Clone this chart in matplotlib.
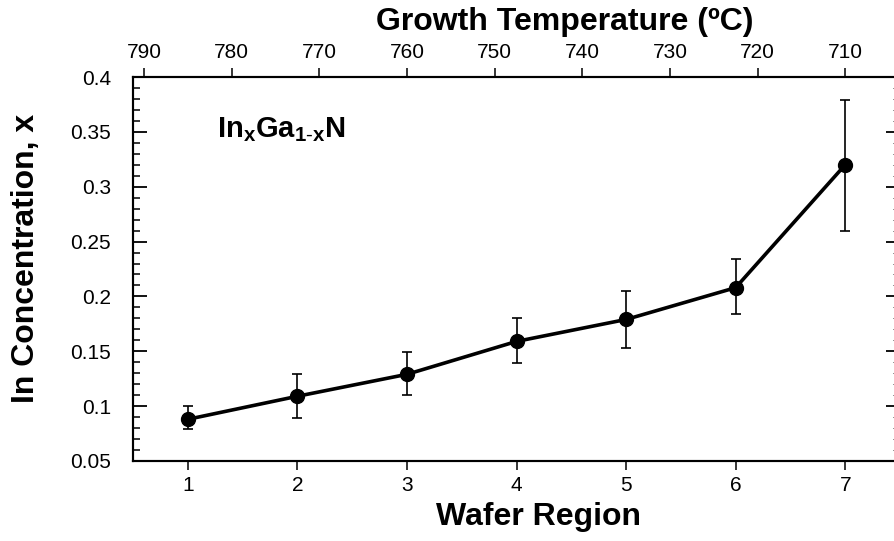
"""InGaN indium concentration vs wafer region / growth temperature."""
import numpy as np
import matplotlib; matplotlib.use("Agg")
import matplotlib.pyplot as plt
from matplotlib.ticker import MultipleLocator, FixedLocator

plt.rcParams['font.family'] = ['Liberation Sans', 'DejaVu Sans']
plt.rcParams['mathtext.fontset'] = 'custom'
plt.rcParams['mathtext.rm'] = 'Liberation Sans'
plt.rcParams['mathtext.bf'] = 'Liberation Sans:bold'

# data
region = [1, 2, 3, 4, 5, 6, 7]
conc = [0.088, 0.109, 0.129, 0.159, 0.179, 0.208, 0.320]
err_lo = [0.009, 0.020, 0.019, 0.020, 0.026, 0.024, 0.060]
err_hi = [0.012, 0.020, 0.020, 0.021, 0.026, 0.026, 0.059]
temp_ticks = [790, 780, 770, 760, 750, 740, 730, 720, 710]
# growth temperature at region 1 and region 7 (linear across wafer)
temp_r1, temp_r7 = 785, 710

fig = plt.figure(figsize=(8.94, 5.41), dpi=100)
W, H = 894, 541
ax = fig.add_axes([133 / W, 1 - 461 / H, (900 - 133) / W, (461 - 77) / H])

ax.errorbar(region, conc, yerr=[err_lo, err_hi], color='black', lw=2.6,
            marker='o', ms=10, ecolor='black', elinewidth=1.2, capsize=3.8,
            capthick=1.2)

ax.set_xlim(0.5, 7.5)
ax.set_ylim(0.05, 0.4)
ax.xaxis.set_major_locator(FixedLocator(region))
ax.yaxis.set_major_locator(MultipleLocator(0.05))
ax.yaxis.set_minor_locator(MultipleLocator(0.01))
ax.yaxis.set_major_formatter(plt.FuncFormatter(lambda v, p: f'{v:.2f}'.rstrip('0').rstrip('.') if v else '0'))

for s in ax.spines.values():
    s.set_linewidth(1.5)
ax.tick_params(axis='x', which='major', direction='out', length=6.5, width=1.1,
               labelsize=15, pad=4, top=False)
ax.tick_params(axis='y', which='major', direction='in', length=10, width=1.3,
               labelsize=15, pad=16, left=True, right=True)
ax.tick_params(axis='y', which='minor', direction='in', length=5, width=1.1,
               left=True, right=True)
for t in ax.yaxis.get_minor_ticks():
    t.tick2line.set_color('#999999')
    t.tick2line.set_markeredgewidth(0.6)

# top axis: growth temperature
slope = (temp_r7 - temp_r1) / (region[-1] - region[0])
ax2 = ax.twiny()
ax2.set_xlim(temp_r1 + slope * (0.5 - 1), temp_r1 + slope * (7.5 - 1))
ax2.xaxis.set_major_locator(FixedLocator(temp_ticks))
ax2.tick_params(axis='x', direction='out', length=6.5, width=1.1, labelsize=15, pad=4)
for s in ax2.spines.values():
    s.set_linewidth(1.5)

fig.text(538 / W, 1 - 517 / H, 'Wafer Region', fontsize=23, fontweight='bold',
         ha='center', va='center')
fig.text(565 / W, 1 - 22 / H, 'Growth Temperature (ºC)', fontsize=23, fontweight='bold',
         ha='center', va='center')
fig.text(26 / W, 1 - 258 / H, 'In Concentration, x', fontsize=23, fontweight='bold',
         ha='center', va='center', rotation=90)
ax.text(217 / W, 1 - 130 / H, r'$\mathbf{In_xGa_{1\text{-}x}N}$', fontsize=21,
        transform=fig.transFigure, ha='left', va='center')

fig.savefig('out.png', dpi=100)
print('saved out.png')
